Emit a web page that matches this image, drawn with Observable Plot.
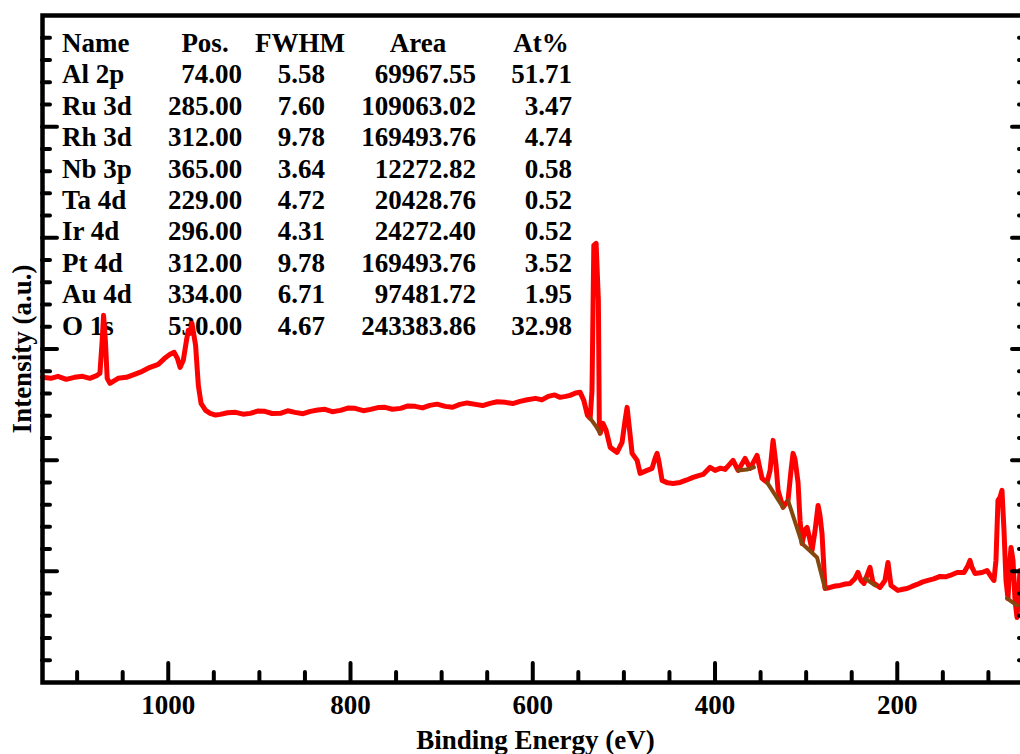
<!DOCTYPE html>
<html>
<head>
<meta charset="utf-8">
<script src="https://cdn.jsdelivr.net/npm/d3@7"></script>
<script src="https://cdn.jsdelivr.net/npm/@observablehq/plot@0.6"></script>
<style>
  html, body { margin: 0; padding: 0; background: #fff; overflow: hidden; }
  #wrap { position: relative; width: 1020px; height: 754px; overflow: hidden;
          font-family: "Liberation Serif", "Times New Roman", serif; font-weight: bold; color: #000; }
  #table { position: absolute; left: 0; top: 28px; z-index: 0; font-size: 27px; line-height: 31.4px; }
  .col { position: absolute; top: 0; }
  .col div { white-space: nowrap; height: 31.4px; }
  .col .head { display: flex; justify-content: center; }
  #chart { position: absolute; left: 0; top: 0; z-index: 1; }
</style>
</head>
<body>
<div id="wrap"><div id="table"></div><div id="chart"></div></div>
<script>
// XPS survey spectrum: binding energy (eV) and intensity (arbitrary units)
const bindingEnergy = [
  1138, 1129, 1121, 1112, 1103, 1094, 1086, 1078, 1075, 1072.5, 1071, 1069, 1067, 1064, 1055, 1046,
  1037, 1028.5, 1020, 1011, 1004, 998, 993.5, 990, 987, 983.5, 980, 978, 976, 974, 970, 967, 964, 959,
  954, 948, 943, 935, 926, 918, 910, 902, 894, 886, 877, 869, 861, 852, 844, 836, 828, 820, 811, 803,
  795, 786, 778, 770, 762, 754, 745, 737, 729, 721, 713, 705, 696, 688, 680, 672, 663, 655, 647, 639,
  630, 622, 614, 606, 597, 590, 583, 576, 570, 564, 559, 553, 548, 544, 540, 537, 535, 533, 530.5, 528, 527, 526, 523, 519.5, 515,
  507.5, 502, 498.7, 496.5, 494.3, 491, 485.5, 482.2, 474.6, 469.1, 465.8, 463.6, 461.4, 458.1, 452, 446.1,
  438.3, 431, 424.1, 418, 413.1, 405.4, 399.9, 394, 388.9, 380.2, 374.7, 367, 361.5, 353.9, 348.4, 342.9, 339.6, 336.3,
  333, 330.8, 325.3, 319.9, 316.6, 314.4, 312.2, 308.9, 306.7, 304.5, 301.2, 299, 295.7, 293.5, 290.2,
  286.9, 284.8, 282.6, 279.3, 273.8, 268, 262.8, 257, 251.8, 246.4, 243.1, 239.8, 236.5, 233.2, 229.9, 226.7, 219,
  213.5, 210.2, 206.9, 199.2, 194, 189.3, 184, 178.3, 172, 166.3, 160, 153.1, 147, 142.1, 134.4, 126.8, 122.4, 120.2, 118, 114.7,
  107, 101.6, 97.2, 93.9, 91.7, 89.5, 87.3, 85.1, 82.9, 80.7, 78.5, 76.3, 75.2, 73, 70.8, 68.6, 65.3, 61, 57
];
const intensity = [
  274.5, 273.6, 275.4, 272.7, 274.5, 275.4, 273.6, 276.3, 278.1, 307.8, 330.3, 307.8, 273.6, 269.1, 273.6, 274.5,
  277.2, 279.9, 283.5, 286.2, 291.6, 295.2, 297, 291.6, 283.5, 289.8, 307.8, 316.8, 314.1, 323.1, 303.3, 267.3, 251.1, 244.8,
  242.1, 240.6, 241.2, 242.7, 243, 241.4, 242.1, 244.2, 243.9, 242, 242.1, 244.4, 243, 241.8, 243.9, 245.1, 245.7, 243.6, 244.8, 246.9,
  246.6, 244.5, 245.7, 247.3, 247.5, 245.8, 246.6, 248.8, 248.4, 247, 249.3, 250.4, 248.4, 247.6, 250.2, 251.5, 250.2, 249.1, 251.1, 252.6,
  252, 250.9, 252.9, 254.4, 255.6, 254.2, 257.4, 258.7, 256.5, 257.4, 258.3, 260.5, 261, 253.8, 240.3, 237.6, 262.8, 393.3, 395.1, 343.8, 235.8, 224.1, 233.1, 226.8, 211.5,
  207, 216, 235.8, 247.5, 231.3, 206.1, 199.8, 188.1, 190.8, 192.6, 201.6, 206.1, 198, 181.8, 179.6, 179.1,
  180, 182.2, 184.5, 186.1, 187.2, 193.5, 190.8, 192.8, 191.7, 199.8, 190.8, 201.6, 192.6, 204.3, 183.6, 180, 190.8, 217.8,
  195.3, 172.8, 157.5, 163.8, 190.8, 206.1, 200.7, 180, 145.8, 125.1, 137.7, 139.5, 127.8, 118.8, 136.8,
  159.3, 150.3, 134.1, 84.6, 85.5, 86.8, 87.3, 88.6, 89.1, 93.6, 99, 91.8, 89.1, 96.3, 103.5, 90, 85.5,
  91.8, 108, 87.3, 82.8, 83.9, 84.6, 86.4, 88.2, 90.5, 91.8, 93.2, 95.4, 95.1, 96.3, 99, 99, 105.3, 109.8, 103.5, 98.1,
  99, 100.8, 95.4, 91.8, 109.8, 163.8, 166.5, 172.8, 136.8, 91.8, 75.6, 109.8, 121.5, 109.8, 73.8, 58.5, 100.8, 73.8, 80
];

// Fitted backgrounds beneath the peaks
const backgroundId = [1, 1, 1, 2, 2, 2, 3, 3, 4, 4, 4, 4, 5, 5, 6, 6];
const backgroundEnergy = [537, 531, 526, 374.7, 365, 357.2, 342.9, 325.3, 319.9, 304.5, 288, 279.3, 235.4, 224.4, 79.6, 68.6];
const backgroundIntensity = [237.6, 231, 224.1, 190.8, 191.5, 193.5, 180, 157.5, 163.8, 125.1, 112.5, 84.6, 93.6, 87.3, 75.6, 69.3];

// Quantification table
const peakNames = ["Al 2p", "Ru 3d", "Rh 3d", "Nb 3p", "Ta 4d", "Ir 4d", "Pt 4d", "Au 4d", "O 1s"];
const peakPositions = [74.00, 285.00, 312.00, 365.00, 229.00, 296.00, 312.00, 334.00, 530.00];
const peakFwhm = [5.58, 7.60, 9.78, 3.64, 4.72, 4.31, 9.78, 6.71, 4.67];
const peakAreas = [69967.55, 109063.02, 169493.76, 12272.82, 20428.76, 24272.40, 169493.76, 97481.72, 243383.86];
const atomicPercent = [51.71, 3.47, 4.74, 0.58, 0.52, 0.52, 3.52, 1.95, 32.98];
const tableHeaders = ["Name", "Pos.", "FWHM", "Area", "At%"];

// Axis ticks and titles
const xMajorTicks = [1000, 800, 600, 400, 200];
const xMinorTicks = [1100, 1050, 950, 900, 850, 750, 700, 650, 550, 500, 450, 350, 300, 250, 150, 100];
const yMajorTicks = [100, 200, 300, 400, 500];
const yMinorTicks = d3.range(20, 600, 20).filter(v => v % 100 !== 0);
const xTitle = "Binding Energy (eV)";
const yTitle = "Intensity (a.u.)";

const spectrum = bindingEnergy.map((be, i) => ({be, cps: intensity[i]}));
const background = backgroundEnergy.map((be, i) => ({be, cps: backgroundIntensity[i], id: backgroundId[i]}));

const font = '"Liberation Serif", "Times New Roman", serif';
const W = 1040, H = 754, ML = 42, MR = 12, MT = 15, MB = 72;
const fw = W - ML - MR, fh = H - MT - MB;

const chart = Plot.plot({
  width: W, height: H,
  marginLeft: ML, marginRight: MR, marginTop: MT, marginBottom: MB,
  style: {background: "transparent", maxWidth: "none", fontFamily: font, fontWeight: "bold", color: "#000"},
  x: {domain: [1138, 56], axis: null},
  y: {domain: [0, 600], axis: null},
  marks: [
    Plot.line(spectrum, {x: "be", y: "cps", stroke: "#ff0000", strokeWidth: 5, strokeLinejoin: "round", strokeLinecap: "round"}),
    Plot.line(background, {x: "be", y: "cps", z: "id", stroke: "#86470e", strokeWidth: 4, strokeLinecap: "round"}),
    // bottom ticks (inward)
    Plot.ruleX(xMajorTicks, {insetTop: fh - 19, stroke: "#000", strokeWidth: 4, strokeLinecap: "round"}),
    Plot.ruleX(xMinorTicks, {insetTop: fh - 10, stroke: "#000", strokeWidth: 4, strokeLinecap: "round"}),
    // left ticks (inward)
    Plot.ruleY(yMajorTicks, {insetRight: fw - 15, stroke: "#000", strokeWidth: 4, strokeLinecap: "round"}),
    Plot.ruleY(yMinorTicks, {insetRight: fw - 8, stroke: "#000", strokeWidth: 4, strokeLinecap: "round"}),
    // right ticks (inward)
    Plot.ruleY(yMajorTicks, {insetLeft: fw - 16, stroke: "#000", strokeWidth: 4, strokeLinecap: "round"}),
    Plot.ruleY(yMinorTicks, {insetLeft: fw - 9, stroke: "#000", strokeWidth: 4, strokeLinecap: "round"}),
    Plot.frame({stroke: "#000", strokeWidth: 4.5}),
    Plot.text(xMajorTicks, {x: d => d, frameAnchor: "bottom", lineAnchor: "top", dy: 12,
      text: d => String(d), fontSize: 27, fontWeight: "bold", fontFamily: font, fill: "#000"}),
    Plot.text([xTitle], {frameAnchor: "bottom", textAnchor: "middle", lineAnchor: "bottom", dy: 66, text: d => d, fontSize: 27,
      fontWeight: "bold", fontFamily: font, fill: "#000"}),
    Plot.text([yTitle], {frameAnchor: "left", textAnchor: "middle", dx: -20, rotate: -90, text: d => d, fontSize: 27,
      fontWeight: "bold", fontFamily: font, fill: "#000"})
  ]
});
document.getElementById("chart").appendChild(chart);

// Quantification table (drawn beneath the spectrum)
const fmt = v => v.toFixed(2);
const columns = [
  {head: tableHeaders[0], values: peakNames, left: 62, width: 106, align: "left"},
  {head: tableHeaders[1], values: peakPositions.map(fmt), left: 168, width: 74, align: "right"},
  {head: tableHeaders[2], values: peakFwhm.map(fmt), left: 275, width: 50, align: "right"},
  {head: tableHeaders[3], values: peakAreas.map(fmt), left: 360, width: 116, align: "right"},
  {head: tableHeaders[4], values: atomicPercent.map(fmt), left: 510, width: 62, align: "right"}
];
const table = d3.select("#table");
columns.forEach(c => {
  const col = table.append("div").attr("class", "col")
    .style("left", c.left + "px").style("width", c.width + "px").style("text-align", c.align);
  col.append("div").attr("class", c.align === "left" ? "" : "head").text(c.head);
  c.values.forEach(v => col.append("div").text(v));
});
</script>
</body>
</html>
